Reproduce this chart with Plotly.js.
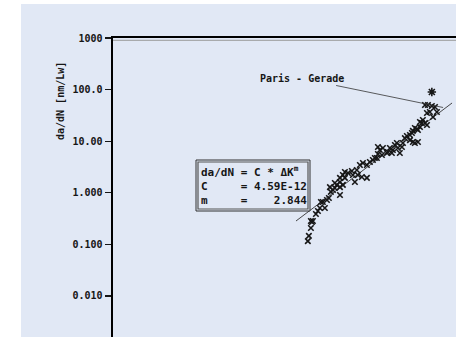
<!DOCTYPE html>
<html>
<head>
<meta charset="utf-8">
<script src="https://cdn.plot.ly/plotly-3.0.1.min.js"></script>
<style>
  html, body { margin: 0; padding: 0; background: #ffffff; width: 464px; height: 337px; overflow: hidden; }
  #chart { position: absolute; left: 21px; top: 4px; width: 435px; height: 333px; }
</style>
</head>
<body>
<div id="chart"></div>
<script>
// Measured points: stress intensity range ΔK and crack growth rate da/dN [nm/Lw]
const deltaK = [
  4.90, 4.96, 5.08, 5.14, 5.20, 5.08, 5.39, 5.52, 5.65, 5.72, 5.85, 5.99, 6.14, 6.28, 6.43, 6.59,
  6.74, 7.16, 6.90, 7.16, 7.41, 7.59, 6.36, 6.74, 7.16,
  7.59, 7.87, 8.24, 7.41, 7.16, 8.34, 8.74, 9.06, 9.39, 9.84, 10.19, 10.56, 11.07, 11.21,
  9.84, 9.27, 8.85, 8.54,
  10.81, 11.21, 11.75, 11.47, 11.89, 12.47, 13.21, 12.61, 12.91, 13.37, 13.70, 14.02, 14.19,
  14.88, 15.06, 14.52, 15.41, 15.78, 16.36, 16.36, 16.75, 16.94, 16.94, 17.34, 17.98, 17.34,
  17.77, 17.98, 18.41, 18.41, 18.84, 19.06, 19.54, 20.00,
  19.54, 20.23, 21.19, 21.98, 22.49, 20.70, 20.00, 21.47
];
const dadN = [
  0.116, 0.146, 0.208, 0.272, 0.284, 0.284, 0.388, 0.444, 0.507, 0.664, 0.664, 0.507, 0.725, 0.793, 1.04, 1.13,
  1.24, 0.906, 1.42, 1.62, 1.42, 1.94, 1.29, 1.55, 1.29,
  2.53, 2.42, 2.64, 2.21, 1.94, 2.21, 2.77, 3.46, 3.78, 3.46, 3.95, 4.32, 4.72, 7.72,
  1.94, 2.02, 2.21, 1.62,
  4.72, 5.65, 5.41, 6.75, 7.38, 5.91, 5.91, 6.18, 7.38, 6.75, 8.43, 9.22, 7.38,
  7.72, 9.22, 5.91, 11.5, 12.6, 13.2, 10.5, 14.4, 15.8, 9.64, 9.22, 9.64, 18.0,
  17.2, 16.5, 18.8, 23.5, 22.5, 25.7, 22.5, 20.6,
  50.3, 50.3, 48.1, 46.0, 36.8, 36.8, 35.2, 29.5
];
// Outlier point drawn as asterisk
const outlierDK = [21.19];
const outlierDadN = [89.8];

// Paris line end points
const fitDK = [4.26, 26.9];
const fitDadN = [0.284, 55.0];

// Paris parameters
const parisC = "4.59E-12";
const parisM = "2.844";

// Point of the Paris line the label points to
const labelDK = 24.2;
const labelDadN = 45.0;

// Y tick labels
const yTickVals = [0.01, 0.1, 1, 10, 100, 1000];
const yTickText = ["0.010", "0.100", "1.000", "10.00", "100.0", "1000"];

const FONT = "DejaVu Sans Mono, Liberation Mono, monospace";
const INK = "#161616";
const BG = "rgb(225,232,245)";

const traces = [
  {
    x: fitDK, y: fitDadN, type: "scatter", mode: "lines",
    line: { color: "#333333", width: 0.9 }, hoverinfo: "skip", showlegend: false
  },
  {
    x: deltaK, y: dadN, type: "scatter", mode: "markers",
    marker: { symbol: "x-thin-open", size: 5.5, color: INK, line: { color: INK, width: 1.6 } },
    showlegend: false
  },
  {
    x: outlierDK, y: outlierDadN, type: "scatter", mode: "markers",
    marker: { symbol: "asterisk-open", size: 7, color: INK, line: { color: INK, width: 1.6 } },
    showlegend: false
  }
];

// helpers for placing layout items in paper coordinates (plot: 343 x 299 px)
const PW = 343, PH = 299;
const px = v => v / PW;
const py = v => v / PH;

const boxLeft = px(196 - 113), boxRight = px(310 - 113);
const boxTop = 1 - py(160 - 38), boxBottom = 1 - py(211 - 38);
const inset = 2;

const boxFont = { family: FONT, size: 11, color: INK, weight: "bold" };
const nb = s => s.replace(/ /g, "\u00a0");

const layout = {
  width: 435, height: 333,
  margin: { l: 92, r: 0, t: 34, b: 0, pad: 0 },
  paper_bgcolor: BG,
  plot_bgcolor: BG,
  showlegend: false,
  xaxis: {
    type: "log", range: [-0.309, 1.450], side: "top",
    showline: true, linecolor: "#000000", linewidth: 2.5,
    ticks: "", showticklabels: false, showgrid: false, zeroline: false
  },
  yaxis: {
    type: "log", range: [-2.795, 3],
    showline: true, linecolor: "#000000", linewidth: 2.5,
    ticks: "outside", ticklen: 6, tickwidth: 1.3, tickcolor: INK,
    tickvals: yTickVals, ticktext: yTickText,
    tickfont: { family: FONT, size: 10, color: INK, weight: "bold" },
    showgrid: false, zeroline: false
  },
  shapes: [
    { type: "line", xref: "paper", yref: "paper", x0: 0, x1: 1, y0: 1 - py(2.3), y1: 1 - py(2.3),
      line: { color: "#9a9a9a", width: 1 } },
    { type: "rect", xref: "paper", yref: "paper", x0: boxLeft, x1: boxRight, y0: boxBottom, y1: boxTop,
      fillcolor: BG, line: { color: "#303030", width: 1 } },
    { type: "rect", xref: "paper", yref: "paper",
      x0: boxLeft + px(inset), x1: boxRight - px(inset), y0: boxBottom + py(inset), y1: boxTop - py(inset),
      fillcolor: "rgba(0,0,0,0)", line: { color: "#555555", width: 1.2 } }
  ],
  annotations: [
    { xref: "paper", yref: "paper", x: px(60 - 113), y: 1 - py(101 - 38), text: "da/dN [nm/Lw]",
      textangle: -90, showarrow: false, xanchor: "center", yanchor: "middle",
      font: { family: FONT, size: 10, color: INK, weight: "bold" } },
    { x: Math.log10(labelDK), y: Math.log10(labelDadN), xref: "x", yref: "y",
      text: "Paris - Gerade", showarrow: true, arrowhead: 0, arrowwidth: 0.8, arrowcolor: "#333333",
      ax: -141, ay: -29, standoff: 0,
      font: { family: FONT, size: 10, color: INK, weight: "bold" } },
    { xref: "paper", yref: "paper", x: px(199 - 113), y: 1 - py(172 - 38), xanchor: "left", yanchor: "middle",
      showarrow: false, text: nb("da/dN = C * ΔK") + "<sup>m</sup>", font: boxFont },
    { xref: "paper", yref: "paper", x: px(199 - 113), y: 1 - py(186 - 38), xanchor: "left", yanchor: "middle",
      showarrow: false, text: nb("C     = " + parisC), font: boxFont },
    { xref: "paper", yref: "paper", x: px(199 - 113), y: 1 - py(200 - 38), xanchor: "left", yanchor: "middle",
      showarrow: false, text: nb("m     =    " + parisM), font: boxFont }
  ]
};

Plotly.newPlot("chart", traces, layout, { displayModeBar: false, staticPlot: true });
</script>
</body>
</html>
